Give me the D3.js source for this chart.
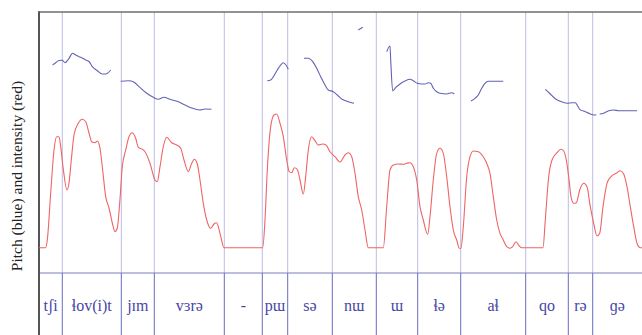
<!DOCTYPE html>
<html>
<head>
<meta charset="utf-8">
<script src="https://cdn.jsdelivr.net/npm/d3@7"></script>
<style>
  body { margin: 0; background: #fff; }
  svg { display: block; }
</style>
</head>
<body>
<div id="chart"></div>
<script>
// time in seconds, level = height above the tier line
const duration = 6.03;

const boundaries = [0.233, 0.823, 1.153, 1.853, 2.233, 2.487, 2.933, 3.373, 3.787, 4.217, 4.867, 5.293, 5.537];
const syllables = ["tʃi", "ɬov(i)t", "jɪm", "vɜrə", "-", "pɯ", "sə", "nɯ", "ɯ", "ɬə", "aɬ", "qo", "rə", "ɡə"];

const intensity = [
  [0.00,25.3],[0.067,25.3],[0.083,33],[0.117,80],[0.15,123],[0.177,136.3],[0.20,136.3],[0.217,126.3],
  [0.24,106.3],[0.28,83],[0.30,90],[0.323,113],[0.35,138],[0.393,149.7],[0.433,153.7],[0.467,151.3],
  [0.50,140],[0.527,131.3],[0.56,130.3],[0.583,132],[0.607,126.3],[0.633,106.3],[0.667,76.3],[0.70,65],
  [0.733,50],[0.76,41.3],[0.783,45],[0.807,70],[0.833,106.3],[0.867,123],[0.90,136.3],[0.933,140.3],
  [0.967,134.7],[0.993,125.7],[1.033,123.7],[1.06,121.3],[1.11,109.7],[1.16,93],[1.183,91.3],[1.21,106.3],
  [1.243,126.3],[1.277,135.7],[1.327,130.3],[1.377,128],[1.417,124.7],[1.45,113],[1.493,101.3],[1.527,109.7],
  [1.553,113.7],[1.583,109],[1.61,93],[1.643,69.7],[1.677,53],[1.717,44.7],[1.75,49],[1.777,50.3],
  [1.81,39.7],[1.85,25.3],[2.237,25.3],[2.26,53],[2.283,103],[2.317,146.3],[2.35,158],[2.377,159],
  [2.41,149.7],[2.443,136.3],[2.477,113],[2.503,101.3],[2.527,100.3],[2.553,105.3],[2.583,103.7],[2.61,93],
  [2.643,79],[2.67,99.7],[2.693,123],[2.727,136.3],[2.76,132.3],[2.793,128],[2.837,129],[2.87,128],
  [2.91,121.3],[2.96,116.3],[3.01,111],[3.06,118],[3.093,120.3],[3.127,116.3],[3.16,99.7],[3.193,76.3],
  [3.227,63],[3.26,43],[3.293,25.3],[3.443,25.3],[3.477,66.3],[3.51,103],[3.543,108],[3.593,109],
  [3.643,108.7],[3.677,109.7],[3.71,110.3],[3.743,106.3],[3.777,93],[3.81,66.3],[3.843,53],[3.887,38.7],
  [3.91,56.3],[3.943,93],[3.977,119.7],[4.01,124.7],[4.043,119.7],[4.077,96.3],[4.11,66.3],[4.143,43],
  [4.177,33],[4.203,24.7],[4.22,24.7],[4.243,46.3],[4.277,96.3],[4.31,116.3],[4.343,122],[4.393,121.3],
  [4.443,116.3],[4.477,109.7],[4.51,99.7],[4.543,76.3],[4.577,53],[4.61,39.7],[4.643,33],[4.677,26.3],
  [4.71,24.7],[4.737,26.3],[4.77,31.3],[4.803,27],[4.827,25.3],[5.04,25.3],[5.063,53],[5.097,96.3],
  [5.13,113],[5.18,120.3],[5.22,123.7],[5.247,122],[5.273,113],[5.297,96.3],[5.32,76.3],[5.347,69.7],
  [5.373,70.3],[5.407,83],[5.447,89.7],[5.48,86.3],[5.513,66.3],[5.547,49.7],[5.58,37],[5.607,39.7],
  [5.64,66.3],[5.68,89.7],[5.72,96.3],[5.78,100.3],[5.813,102.3],[5.847,99],[5.88,86.3],[5.913,66.3],
  [5.947,46.3],[5.98,29.7],[6.013,25.3],[6.03,25.3]
];

const pitch1 = [[0.135,208],[0.167,210.3],[0.20,212.5],[0.233,212.7],[0.26,210.3],[0.30,214.7],[0.335,219.7],[0.367,218],
  [0.417,215.7],[0.467,213],[0.50,211.5],[0.533,206.3],[0.583,202.3],[0.633,199],[0.667,199],[0.717,203]];
const pitch2 = [[0.817,191.7],[0.897,192.2],[0.947,191],[1.00,186.3],[1.077,179.7],[1.143,175.7],[1.193,173.7],[1.25,175.7],
  [1.31,173.7],[1.393,171.3],[1.46,168],[1.527,165],[1.61,163],[1.66,164],[1.725,163.8]];
const pitch3 = [[2.283,192.3],[2.317,193],[2.343,196.3],[2.383,203],[2.417,208],[2.443,210.3],[2.47,208],[2.493,203.7]];
const pitch4 = [[2.65,214.7],[2.693,214.7],[2.737,211.3],[2.777,204.7],[2.817,196.3],[2.86,188],[2.893,183],[2.943,181.3],
  [2.983,178],[3.027,174],[3.06,172.5],[3.11,170.7],[3.15,169.7]];
const pitch5 = [[3.193,243],[3.237,245.7]];
const pitch6 = [[3.477,221.3],[3.51,227],[3.517,213],[3.537,182],[3.56,184.7],[3.61,189],[3.66,192],[3.71,193.7],
  [3.743,192.3],[3.783,189.7],[3.827,189],[3.86,189],[3.893,190.3],[3.917,189.7],[3.943,184.7],[3.977,181.3],
  [4.01,179.7],[4.077,179],[4.127,180.3],[4.153,179]];
const pitch7 = [[4.32,172],[4.36,174.7],[4.393,178],[4.427,184.7],[4.46,189.7],[4.493,191.7],[4.577,191.7],[4.643,191.7]];
const pitch8 = [[5.063,183.7],[5.113,179],[5.163,174.3],[5.213,171.7],[5.28,169.7],[5.33,170.3],[5.363,170.3],[5.387,167],
  [5.407,163.7],[5.463,161.3],[5.513,159],[5.547,158],[5.573,158.3]];
const pitch9 = [[5.607,159],[5.647,159.7],[5.697,162.3],[5.747,163],[5.797,162.3],[5.88,162.3],[5.98,162.3]];
const pitchSegments = [pitch1, pitch2, pitch3, pitch4, pitch5, pitch6, pitch7, pitch8, pitch9];

const W = 642, H = 335;
const plotLeft = 39, plotTop = 12, tierY = 273;

const svg = d3.select("#chart").append("svg")
  .attr("width", W)
  .attr("height", H);

const x = d3.scaleLinear().domain([0, duration]).range([plotLeft, W]);
const y = d3.scaleLinear().domain([0, tierY - plotTop]).range([tierY, plotTop]);

// boundary lines in the plot area
svg.append("g")
  .selectAll("line")
  .data(boundaries)
  .enter().append("line")
  .attr("x1", d => x(d)).attr("x2", d => x(d))
  .attr("y1", plotTop).attr("y2", tierY)
  .attr("stroke", "#bcbce6")
  .attr("stroke-width", 1);

// boundary lines in the tier
svg.append("g")
  .selectAll("line")
  .data(boundaries)
  .enter().append("line")
  .attr("x1", d => x(d)).attr("x2", d => x(d))
  .attr("y1", tierY).attr("y2", H)
  .attr("stroke", "#6a6abf")
  .attr("stroke-width", 1);

// tier line
svg.append("line")
  .attr("x1", plotLeft).attr("x2", W)
  .attr("y1", tierY).attr("y2", tierY)
  .attr("stroke", "#7c7cc8")
  .attr("stroke-width", 1.2);

// frame
svg.append("line")
  .attr("x1", plotLeft).attr("x2", W)
  .attr("y1", plotTop).attr("y2", plotTop)
  .attr("stroke", "#6e6e6e")
  .attr("stroke-width", 1.4);
svg.append("line")
  .attr("x1", plotLeft).attr("x2", plotLeft)
  .attr("y1", plotTop - 0.7).attr("y2", H)
  .attr("stroke", "#555")
  .attr("stroke-width", 2);

const line = d3.line()
  .x(d => x(d[0]))
  .y(d => y(d[1]))
  .curve(d3.curveMonotoneX);

svg.append("path")
  .datum(intensity)
  .attr("d", line)
  .attr("fill", "none")
  .attr("stroke", "#ef6464")
  .attr("stroke-width", 1.1);

svg.append("g")
  .selectAll("path")
  .data(pitchSegments)
  .enter().append("path")
  .attr("d", line)
  .attr("fill", "none")
  .attr("stroke", "#6262b4")
  .attr("stroke-width", 1.1);

// syllable labels
const edges = [0].concat(boundaries, [duration]);
svg.append("g")
  .selectAll("text")
  .data(syllables)
  .enter().append("text")
  .attr("x", (d, i) => x((edges[i] + edges[i + 1]) / 2))
  .attr("y", 311)
  .attr("text-anchor", "middle")
  .style("font-family", '"Liberation Serif"')
  .style("font-size", "16px")
  .attr("fill", "#4646a6")
  .text(d => d);

// y axis title
svg.append("text")
  .attr("transform", "translate(22,176) rotate(-90)")
  .attr("text-anchor", "middle")
  .style("font-family", '"Liberation Serif"')
  .style("font-size", "15.5px")
  .attr("fill", "#222")
  .text("Pitch (blue) and intensity (red)");
</script>
</body>
</html>
